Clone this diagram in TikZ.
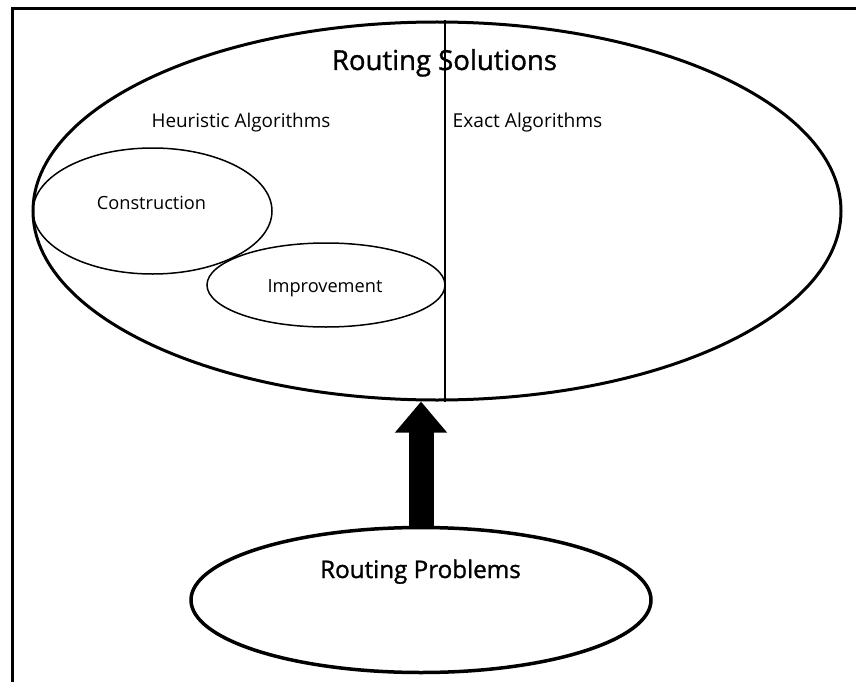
\documentclass[tikz,border=0pt]{standalone}
\usepackage{fontspec}
\setmainfont{Open Sans}
\newfontfamily\heavyfont[FakeBold=1.2]{Open Sans}
\usetikzlibrary{shapes.geometric,arrows.meta,calc}
\begin{document}
\begin{tikzpicture}[x=1pt,y=-1pt,
  oval/.style={ellipse,draw,inner sep=0pt,line width=#1},
  oval/.default=3pt,
  label/.style={inner sep=0pt,anchor=base,font=\fontsize{#1}{#1}\selectfont},
  label/.default=20pt,
  title/.style={inner sep=0pt,anchor=base,font=\heavyfont\fontsize{#1}{#1}\selectfont}]
\useasboundingbox (0,0) rectangle (856,682);
% frame edges
\draw[line width=3pt] (856,9) -- (12,9) -- (12,682);
% solutions region
\node[oval=3pt,minimum width=808pt,minimum height=378pt] (sol) at (437,211) {};
\draw[line width=2pt] ($(sol.north)+(8,0)$) coordinate (divtop) -- ($(sol.south)+(8,0)$) coordinate (divbot);
\node[title=27.5pt] (soltext) at (444.5,70) {Routing Solutions};
\node[label=18.9pt] (heur) at (241,128) {Heuristic Algorithms};
\node[label=19.2pt] (exact) at (527.5,128) {Exact Algorithms};
% heuristic families
\node[oval=1.5pt,minimum width=239pt,minimum height=126pt] (cons) at (152.5,211) {};
\node[oval=1.5pt,minimum width=238pt,minimum height=84pt] (impr) at (326,285) {};
\node[label=18.2pt] (constext) at (151.5,209) {Construction};
\node[label=18.2pt] (imprtext) at (325,292) {Improvement};
% problems
\node[oval=3.5pt,minimum width=460pt,minimum height=145pt] (prob) at (421,600) {};
\node[title=24.2pt] (probtext) at (420.5,578) {Routing Problems};
% arrow from problems to solutions
\draw[line width=25pt,-{Triangle[width=50pt,length=31pt]}] (prob.north) -- (prob.north |- sol.south);
\end{tikzpicture}
\end{document}
